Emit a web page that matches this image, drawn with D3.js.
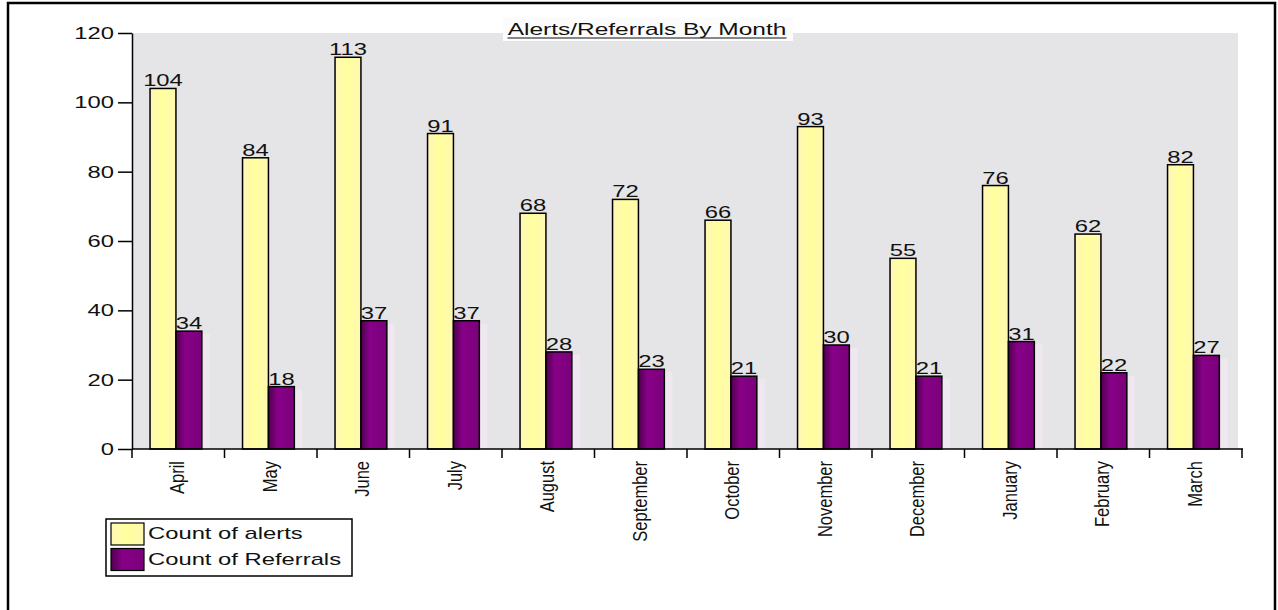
<!DOCTYPE html>
<html>
<head>
<meta charset="utf-8">
<script src="https://cdn.jsdelivr.net/npm/d3@7"></script>
<style>
  body { margin: 0; background: #fff; }
  text { font-family: "Liberation Sans", Arial, sans-serif; fill: #111; }
</style>
</head>
<body>
<div id="chart"></div>
<script>
const months = ["April", "May", "June", "July", "August", "September",
    "October", "November", "December", "January", "February", "March"];
const alerts = [104, 84, 113, 91, 68, 72, 66, 93, 55, 76, 62, 82];
const referrals = [34, 18, 37, 37, 28, 23, 21, 30, 21, 31, 22, 27];
const seriesNames = ["Count of alerts", "Count of Referrals"];
const yTicks = [0, 20, 40, 60, 80, 100, 120];

const W = 1278, H = 610;
const K = 1.4;   // the source picture is stretched sideways
let plot = { left: 132, right: 1242, top: 33, bottom: 449 };

let svg = d3.select("#chart").append("svg")
    .attr("width", W)
    .attr("height", H);

let defs = svg.append("defs");
let gy = defs.append("linearGradient").attr("id", "gYellow");
gy.append("stop").attr("offset", "0%").attr("stop-color", "#fff6b8");
gy.append("stop").attr("offset", "45%").attr("stop-color", "#ffff9e");
gy.append("stop").attr("offset", "100%").attr("stop-color", "#fff8b0");
let gp = defs.append("linearGradient").attr("id", "gPurple");
gp.append("stop").attr("offset", "0%").attr("stop-color", "#4e004e");
gp.append("stop").attr("offset", "35%").attr("stop-color", "#880088");
gp.append("stop").attr("offset", "100%").attr("stop-color", "#7a007a");

// outer frame (runs off the bottom)
svg.append("rect")
    .attr("x", 8).attr("y", 3)
    .attr("width", 1267).attr("height", 700)
    .attr("fill", "none")
    .attr("stroke", "#000")
    .attr("stroke-width", 2.5);

// plot background
svg.append("rect")
    .attr("x", plot.left).attr("y", plot.top)
    .attr("width", 1238 - plot.left).attr("height", plot.bottom - plot.top)
    .attr("fill", "#e5e5e7");

let x = d3.scaleBand()
    .domain(months)
    .range([plot.left, plot.right]);

let bw = x.bandwidth();
let xInner = d3.scaleBand()
    .domain(seriesNames)
    .range([bw * 0.195, bw * 0.195 + bw * 0.56]);

let y = d3.scaleLinear()
    .domain([0, 120])
    .range([plot.bottom, plot.top]);

let rows = months.map((m, i) => ({ month: m, values: [alerts[i], referrals[i]] }));

// faint depth strips beside each pair
svg.append("g").selectAll("rect")
    .data(rows)
    .join("rect")
    .attr("x", d => x(d.month) + xInner(seriesNames[1]) + xInner.bandwidth())
    .attr("y", d => y(d.values[1]) + 3)
    .attr("width", 8)
    .attr("height", d => plot.bottom - y(d.values[1]) - 3)
    .attr("fill", "#f3e8f3")
    .attr("opacity", 0.8);

let fills = ["url(#gYellow)", "url(#gPurple)"];

let groups = svg.append("g").selectAll("g")
    .data(rows)
    .join("g")
    .attr("transform", d => "translate(" + x(d.month) + ",0)");

groups.selectAll("rect")
    .data(d => d.values.map((v, j) => ({ name: seriesNames[j], value: v, j: j })))
    .join("rect")
    .attr("x", d => xInner(d.name))
    .attr("y", d => y(d.value))
    .attr("width", xInner.bandwidth())
    .attr("height", d => y(0) - y(d.value))
    .attr("fill", d => fills[d.j])
    .attr("stroke", "#000")
    .attr("stroke-width", 1.5);

groups.selectAll("text")
    .data(d => d.values.map((v, j) => ({ name: seriesNames[j], value: v })))
    .join("text")
    .attr("text-anchor", "middle")
    .attr("transform", d => "translate(" + (xInner(d.name) + xInner.bandwidth() / 2) + "," +
        (y(d.value) - 2) + ") scale(" + K + ",1)")
    .style("font-size", "17px")
    .text(d => d.value);

// y axis
let yAxis = svg.append("g")
    .attr("transform", "translate(" + plot.left + ",0)")
    .call(d3.axisLeft(y).tickValues(yTicks).tickSize(14).tickPadding(4).tickSizeOuter(0));
yAxis.select(".domain").attr("stroke", "#000").attr("stroke-width", 1.5);
yAxis.selectAll(".tick line").attr("stroke", "#000").attr("stroke-width", 1.5);
yAxis.selectAll(".tick text")
    .attr("x", -18 / K)
    .attr("transform", "scale(" + K + ",1)")
    .style("font-size", "17px")
    .style("font-family", "Liberation Sans, Arial, sans-serif")
    .attr("fill", "#111");

// x axis: ticks at category edges
let xAxis = svg.append("g")
    .attr("transform", "translate(0," + plot.bottom + ")");
xAxis.append("line")
    .attr("x1", plot.left).attr("x2", plot.right + 1)
    .attr("stroke", "#000").attr("stroke-width", 1.5);
let edges = months.map(m => x(m)).concat([x(months[months.length - 1]) + bw]);
xAxis.selectAll(".edge")
    .data(edges)
    .join("line")
    .attr("class", "edge")
    .attr("x1", d => d).attr("x2", d => d)
    .attr("y1", 0).attr("y2", 9)
    .attr("stroke", "#000").attr("stroke-width", 1.5);

svg.append("g").selectAll("text")
    .data(months)
    .join("text")
    .attr("text-anchor", "end")
    .attr("dy", "0.35em")
    .attr("transform", d => "translate(" + (x(d) + bw / 2 - 1) + ",461) scale(1.2,1) rotate(-90)")
    .style("font-size", "16.5px")
    .text(d => d);

// title with white box and underline
let tx = 647, ty = 35;
svg.append("rect")
    .attr("x", 503).attr("y", 17)
    .attr("width", 290).attr("height", 24)
    .attr("fill", "#fcfcfc");
let title = svg.append("text")
    .attr("text-anchor", "middle")
    .style("font-size", "16.5px")
    .text("Alerts/Referrals By Month");
let tk = 279 / title.node().getComputedTextLength();
title.attr("transform", "translate(" + tx + "," + ty + ") scale(" + tk + ",1)");
svg.append("line")
    .attr("x1", tx - 139.5).attr("x2", tx + 139.5)
    .attr("y1", ty + 3).attr("y2", ty + 3)
    .attr("stroke", "#111").attr("stroke-width", 1.2);

// legend
let legend = svg.append("g").attr("transform", "translate(106,519)");
legend.append("rect")
    .attr("width", 246).attr("height", 57)
    .attr("fill", "#fff")
    .attr("stroke", "#000").attr("stroke-width", 1.5);
let item = legend.selectAll(".item")
    .data(seriesNames)
    .join("g")
    .attr("class", "item")
    .attr("transform", (d, i) => "translate(5," + (4 + i * 25.5) + ")");
item.append("rect")
    .attr("width", 33).attr("height", 22)
    .attr("fill", (d, i) => fills[i])
    .attr("stroke", "#000").attr("stroke-width", 1.2);
item.append("text")
    .attr("transform", "translate(37,16) scale(" + K + ",1)")
    .style("font-size", "17px")
    .text(d => d);
</script>
</body>
</html>
